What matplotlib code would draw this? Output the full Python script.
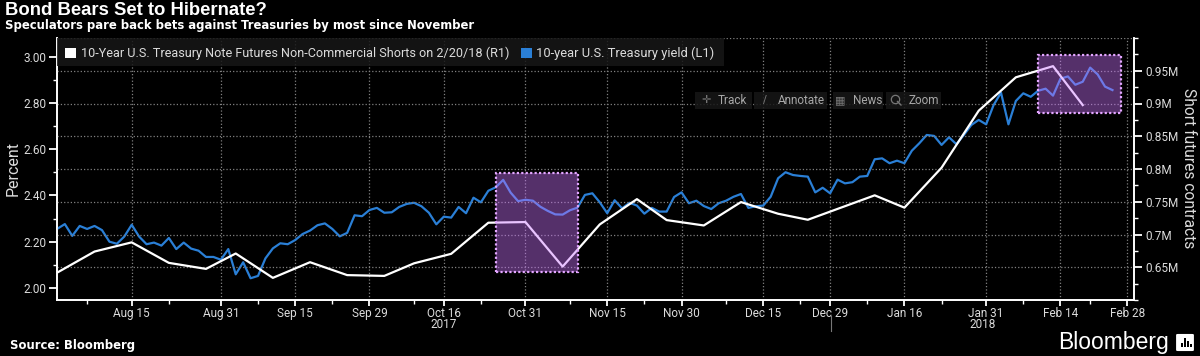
import matplotlib
matplotlib.use('Agg')
import matplotlib.pyplot as plt
from matplotlib.patches import Rectangle, FancyBboxPatch

# 10-year yield, one value per trading day from Aug 1 2017
yield_pct = [2.256,2.276,2.225,2.268,2.255,2.268,2.25,2.20,2.191,2.222,
             2.273,2.222,2.189,2.196,2.183,2.216,2.168,2.196,2.170,2.161,
             2.134,2.134,2.122,2.168,2.059,2.111,2.042,2.052,2.128,2.171,
             2.193,2.189,2.207,2.233,2.248,2.271,2.279,2.255,2.223,2.238,
             2.314,2.310,2.337,2.346,2.325,2.327,2.35,2.363,2.368,2.353,
             2.325,2.275,2.308,2.304,2.35,2.323,2.39,2.37,2.42,2.435,
             2.467,2.412,2.375,2.381,2.377,2.351,2.333,2.318,2.317,2.336,
             2.347,2.402,2.409,2.37,2.323,2.379,2.344,2.368,2.356,2.321,
             2.346,2.33,2.33,2.393,2.413,2.366,2.377,2.354,2.341,2.366,
             2.377,2.394,2.406,2.346,2.353,2.356,2.394,2.474,2.50,2.488,
             2.484,2.481,2.413,2.433,2.409,2.468,2.452,2.457,2.481,2.484,
             2.556,2.56,2.539,2.55,2.539,2.593,2.625,2.661,2.657,2.618,
             2.651,2.621,2.661,2.704,2.726,2.707,2.79,2.844,2.707,2.808,
             2.841,2.826,2.852,2.861,2.831,2.904,2.914,2.878,2.891,2.952,
             2.923,2.87,2.855]

# weekly non-commercial shorts, millions of contracts
shorts_day = [0,5,10,15,20,24,29,34,39,44,48,53,58,63,68,73,78,82,87,92,97,101,110,114,119,124,129,134,138]
shorts_m = [0.642,0.674,0.688,0.6567,0.6475,0.671,0.6338,0.6577,0.638,0.6368,0.656,0.6705,0.718,0.719,0.651,
            0.7154,0.754,0.722,0.7138,0.7495,0.7317,0.7225,0.7598,0.741,0.802,0.889,0.94,0.957,0.8976]

date_ticks = [10,22,32,42,52,63,74,84,95,104,114,125,135,144]
date_labels = ['Aug 15','Aug 31','Sep 15','Sep 29','Oct 16','Oct 31','Nov 15','Nov 30',
               'Dec 15','Dec 29','Jan 16','Jan 31','Feb 14','Feb 28']
minor_days = [4,15,27,37,48,57,69,79,90,100,109,119,130,139]
left_ticks = [2.0,2.2,2.4,2.6,2.8,3.0]
left_minor = [2.1,2.3,2.5,2.7,2.9]
right_ticks = [0.65,0.7,0.75,0.8,0.85,0.9,0.95]
right_labels = ['0.65M','0.7M','0.75M','0.8M','0.85M','0.9M','0.95M']
right_minor = [0.6,0.625,0.675,0.725,0.775,0.825,0.875,0.925,0.975,1.0]
toolbar = ['Track','Annotate','News','Zoom']

W, H = 1200, 356
BLUE = '#2a7fd6'
LIGHT = '#dcdcdc'
plt.rcParams['font.family'] = ['Roboto', 'DejaVu Sans']

def fx(x):
    return x / W

def fy(y):
    return 1 - y / H

fig = plt.figure(figsize=(12, 3.56), dpi=100, facecolor='black')
ax = fig.add_axes([fx(57.4), fy(300), fx(1134 - 57.4), (300 - 38) / H], facecolor='black')
ax.plot(range(len(yield_pct)), yield_pct, color=BLUE, lw=1.6, zorder=3)
ax.set_xlim(0, 144.9)
ax.set_ylim(1.948, 3.08)

ax2 = ax.twinx()
ax2.plot(shorts_day, shorts_m, color='white', lw=1.6, zorder=3)
ax2.set_ylim(0.6, 1.0)

ax.set_xticks(date_ticks)
ax.set_xticklabels(date_labels)
ax.set_xticks(minor_days, minor=True)
ax.set_yticks(left_ticks)
ax.set_yticklabels(['%.2f' % v for v in left_ticks])
ax.set_yticks(left_minor, minor=True)
ax2.set_yticks(right_ticks)
ax2.set_yticklabels(right_labels)
ax2.set_yticks(right_minor, minor=True)

for a in [ax, ax2]:
    a.tick_params(which='major', colors='white', labelcolor=LIGHT, labelsize=8.5, length=6, width=1.3, pad=2)
    a.tick_params(which='minor', colors='white', length=3, width=1)
    for s in a.spines.values():
        s.set_color('white')
        s.set_linewidth(1.2)
    a.spines['top'].set_visible(False)

ax.tick_params(axis='x', which='major', length=4, pad=1)
ax.grid(axis='x', color='#808080', linestyle=':', linewidth=0.9)
ax2.grid(axis='y', color='#808080', linestyle=':', linewidth=0.9)
ax2.axhline(1.0, color='#808080', linestyle=':', linewidth=0.9)
ax.set_axisbelow(True)

# highlight boxes sit on top of the lines
for x0, x1, y0, y1 in [(59, 70.1, 0.6423, 0.7946), (132, 143.2, 0.885, 0.9742)]:
    ax2.add_patch(Rectangle((x0, y0), x1 - x0, y1 - y0, facecolor=(0.8, 0.45, 1.0, 0.42),
                            edgecolor='#e3a6ff', linestyle=(0, (1, 1)), linewidth=1.6, zorder=5))

# legend strip
ax2.add_patch(Rectangle((0, 0.892), 0.619, 0.108, transform=ax2.transAxes, facecolor='#171717',
                        alpha=0.85, edgecolor='none', zorder=6))
fig.patches.append(Rectangle((fx(65.4), fy(58)), 11 / W, 10.5 / H, transform=fig.transFigure, facecolor='white'))
fig.patches.append(Rectangle((fx(521), fy(58)), 11 / W, 10.5 / H, transform=fig.transFigure, facecolor=BLUE))
fig.text(fx(81), fy(53.5), '10-Year U.S. Treasury Note Futures Non-Commercial Shorts on 2/20/18 (R1)',
         color=LIGHT, fontsize=9.1, va='center', zorder=8)
fig.text(fx(536), fy(53.5), '10-year U.S. Treasury yield (L1)', color=LIGHT, fontsize=9.3, va='center', zorder=8)

# toolbar left over from the terminal
for (x0, x1), tx, ix, name, icon in zip([(695, 752), (754, 827), (833, 883), (886, 941)],
                                        [718, 778, 853, 909], [706, 765, 840, 896], toolbar,
                                        ['\u271b', '\u2215', '\u25a6', '']):
    ax2.add_patch(Rectangle(((x0 - 57.4) / 7.43, 0.8916), (x1 - x0) / 7.43, 0.0265, facecolor='#171717',
                            alpha=0.85, edgecolor='none', zorder=6))
    fig.text(fx(tx), fy(100), name, color='#a8a8a8', fontsize=8.5, va='center', zorder=8)
    if icon:
        fig.text(fx(ix), fy(100), icon, color='#777777', fontsize=8, va='center', ha='center', zorder=8,
                 family='DejaVu Sans')

# magnifier has no glyph, draw it
fig.add_artist(plt.Line2D([fx(895)], [fy(99)], marker='o', ms=6, mfc='none', mec='#777777', mew=0.9))
fig.add_artist(plt.Line2D([fx(897.5), fx(901)], [fy(101.5), fy(105)], color='#777777', lw=1))

fig.text(fx(13), fy(168), 'Percent', color=LIGHT, fontsize=11.5, rotation=90, ha='center', va='center')
fig.text(fx(1188), fy(168), 'Short futures contracts', color=LIGHT, fontsize=11.2, rotation=270, ha='center', va='center')

fig.text(fx(444), fy(325), '2017', color=LIGHT, fontsize=8.5, ha='center', va='center')
fig.text(fx(983), fy(325), '2018', color=LIGHT, fontsize=8.5, ha='center', va='center')
fig.add_artist(plt.Line2D([fx(831), fx(831)], [fy(316), fy(331)], color='#777777', lw=0.8))

fig.text(fx(5), fy(10.5), 'Bond Bears Set to Hibernate?', color='white', fontsize=13.3,
         family='Liberation Sans', weight='bold', va='center')
fig.text(fx(5), fy(25), 'Speculators pare back bets against Treasuries by most since November', color='white',
         fontsize=8.4, family='DejaVu Sans', weight='bold', va='center')
fig.text(fx(10), fy(345), 'Source: Bloomberg', color='white', fontsize=8.4, family='DejaVu Sans', weight='bold', va='center')
fig.text(fx(1058), fy(342), 'Bloomberg', color='white', fontsize=16.5, family='Liberation Sans', va='center')

# logo mark
fig.patches.append(FancyBboxPatch((fx(1178), fy(350)), 14 / W, 15 / H, boxstyle='round,pad=0.001',
                                  transform=fig.transFigure, facecolor='white', edgecolor='white'))
for bx, bh in zip([1181, 1184, 1187, 1190], [4, 9, 6, 3]):
    fig.patches.append(Rectangle((fx(bx), fy(347)), 1.6 / W, bh / H, transform=fig.transFigure, facecolor='black'))

fig.savefig('out.png', dpi=100, facecolor='black')
